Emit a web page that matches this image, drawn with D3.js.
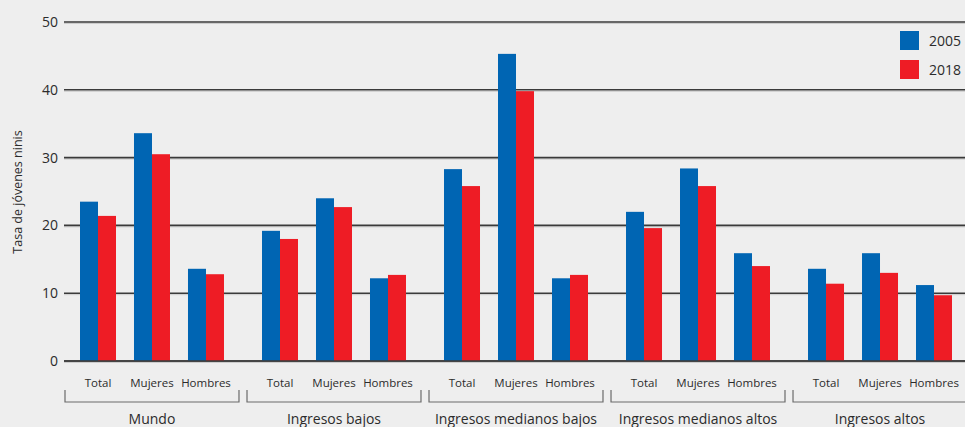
<!DOCTYPE html>
<html>
<head>
<meta charset="utf-8">
<script src="https://cdn.jsdelivr.net/npm/d3@7"></script>
<style>
  body { margin: 0; background: #eeeeee; }
  svg { display: block; font-family: "Open Sans", "Noto Sans", sans-serif; }
</style>
</head>
<body>
<svg id="chart" width="965" height="427"></svg>
<script>
// data
var groups = ["Mundo", "Ingresos bajos", "Ingresos medianos bajos", "Ingresos medianos altos", "Ingresos altos"];
var subcats = ["Total", "Mujeres", "Hombres"];
var years = ["2005", "2018"];
var values2005 = [
  [23.5, 33.6, 13.6],
  [19.2, 24.0, 12.2],
  [28.3, 45.3, 12.2],
  [22.0, 28.4, 15.9],
  [13.6, 15.9, 11.2]
];
var values2018 = [
  [21.4, 30.5, 12.8],
  [18.0, 22.7, 12.7],
  [25.8, 39.8, 12.7],
  [19.6, 25.8, 14.0],
  [11.4, 13.0, 9.7]
];
var yTicks = [0, 10, 20, 30, 40, 50];
var colors = { "2005": "#0065b3", "2018": "#ee1c25" };

var svg = d3.select("#chart");

var y = d3.scaleLinear().domain([0, 50]).range([361, 22]);

var x0 = d3.scaleBand().domain(groups).range([71, 961]).paddingInner(0.11).paddingOuter(0);
var x1 = d3.scaleBand().domain(subcats).range([0, x0.bandwidth()]);
var x2 = d3.scaleBand().domain(years).range([0, x1.bandwidth()]).paddingInner(0).paddingOuter(0.5);

// gridlines
var grid = svg.append("g");
grid.selectAll("line.shadow")
    .data(yTicks)
    .enter()
    .append("line")
      .attr("class", "shadow")
      .attr("x1", 64).attr("x2", 965)
      .attr("y1", function(d){ return y(d) + 1.5; })
      .attr("y2", function(d){ return y(d) + 1.5; })
      .attr("stroke", "#cccccc")
      .attr("stroke-width", 1);
grid.selectAll("line.main")
    .data(yTicks)
    .enter()
    .append("line")
      .attr("class", "main")
      .attr("x1", 64).attr("x2", 965)
      .attr("y1", function(d){ return y(d); })
      .attr("y2", function(d){ return y(d); })
      .attr("stroke", "#3a3a3a")
      .attr("stroke-width", 1.6);

// y tick labels
svg.append("g")
    .selectAll("text")
    .data(yTicks)
    .enter()
    .append("text")
      .attr("x", 58)
      .attr("y", function(d){ return y(d); })
      .attr("dy", "0.35em")
      .attr("text-anchor", "end")
      .attr("font-size", 14)
      .attr("fill", "#2b2b2b")
      .text(function(d){ return d; });

// y axis title
svg.append("text")
    .attr("transform", "translate(22,192) rotate(-90)")
    .attr("text-anchor", "middle")
    .attr("font-size", 12.5)
    .attr("fill", "#2b2b2b")
    .text("Tasa de jóvenes ninis");

// bars
var rows = [];
groups.forEach(function(g, gi){
  subcats.forEach(function(s, si){
    rows.push({ group: g, sub: s, year: "2005", value: values2005[gi][si] });
    rows.push({ group: g, sub: s, year: "2018", value: values2018[gi][si] });
  });
});

svg.append("g")
    .selectAll("rect")
    .data(rows)
    .enter()
    .append("rect")
      .attr("x", function(d){ return x0(d.group) + x1(d.sub) + x2(d.year); })
      .attr("width", x2.bandwidth())
      .attr("y", function(d){ return y(d.value); })
      .attr("height", function(d){ return y(0) - y(d.value); })
      .attr("fill", function(d){ return colors[d.year]; });

// redraw baseline over the bars
svg.append("line")
    .attr("x1", 64).attr("x2", 965)
    .attr("y1", y(0)).attr("y2", y(0))
    .attr("stroke", "#3a3a3a")
    .attr("stroke-width", 1.6);

// subcategory labels, brackets, group labels
var g = svg.append("g")
    .selectAll("g")
    .data(groups)
    .enter()
    .append("g")
      .attr("transform", function(d){ return "translate(" + x0(d) + ",0)"; });

g.selectAll("text.sub")
    .data(subcats)
    .enter()
    .append("text")
      .attr("class", "sub")
      .attr("x", function(d){ return x1(d) + x1.bandwidth() / 2; })
      .attr("y", 387)
      .attr("text-anchor", "middle")
      .attr("font-size", 11.5)
      .attr("fill", "#2b2b2b")
      .text(function(d){ return d; });

g.append("path")
    .attr("d", "M" + (-6) + ",390V402H" + (x0.bandwidth() + 6) + "V390")
    .attr("fill", "none")
    .attr("stroke", "#6b6b6b")
    .attr("stroke-width", 1.2);

g.append("text")
    .attr("x", x0.bandwidth() / 2)
    .attr("y", 424)
    .attr("text-anchor", "middle")
    .attr("font-size", 14)
    .attr("fill", "#2b2b2b")
    .text(function(d){ return d; });

// legend
var legend = svg.append("g")
    .selectAll("g")
    .data(years)
    .enter()
    .append("g")
      .attr("transform", function(d, i){ return "translate(900," + (31 + i * 29) + ")"; });
legend.append("rect")
    .attr("width", 19).attr("height", 19)
    .attr("fill", function(d){ return colors[d]; });
legend.append("text")
    .attr("x", 29).attr("y", 10)
    .attr("dy", "0.35em")
    .attr("font-size", 14)
    .attr("fill", "#2b2b2b")
    .text(function(d){ return d; });
</script>
</body>
</html>
